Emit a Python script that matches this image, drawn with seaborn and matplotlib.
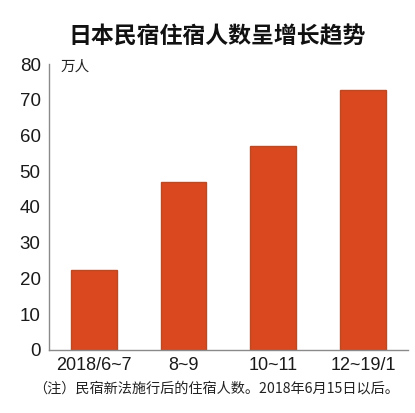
import matplotlib
matplotlib.use("Agg")
import matplotlib.pyplot as plt
import seaborn as sns
import pandas as pd

# Data
title = "日本民宿住宿人数呈增长趋势"
unit_label = "万人"
note = "（注）民宿新法施行后的住宿人数。2018年6月15日以后。"
periods = ["2018/6~7", "8~9", "10~11", "12~19/1"]
guests = [22.3, 46.9, 57.0, 72.8]
y_ticks = [0, 10, 20, 30, 40, 50, 60, 70, 80]

sns.set_theme(style="white")
NUM = ["Liberation Sans", "Noto Sans CJK SC", "DejaVu Sans"]
CJK = ["Noto Sans CJK SC", "DejaVu Sans"]
plt.rcParams["font.family"] = NUM

fig = plt.figure(figsize=(4.15, 4.13), dpi=100)
ax = fig.add_axes([0.118, 0.153, 0.865, 0.692])

df = pd.DataFrame({"period": periods, "guests": guests})
sns.barplot(data=df, x="period", y="guests", ax=ax, color="#D9481E",
            saturation=1, width=0.51, edgecolor="#B84A26", linewidth=1.0)

ax.set_xlim(-0.5, 3.5)
ax.set_ylim(0, 80)
ax.set_yticks(y_ticks)
ax.set_xlabel("")
ax.set_ylabel("")
for s in ["top", "right"]:
    ax.spines[s].set_visible(False)
for s in ["left", "bottom"]:
    ax.spines[s].set_color("#8a8a8a")
    ax.spines[s].set_linewidth(1.0)

ax.tick_params(axis="y", direction="in", length=7, width=1, color="#8a8a8a",
               pad=6, labelsize=13.5, labelcolor="#1a1a1a")
ax.tick_params(axis="x", length=0, pad=5, labelsize=13, labelcolor="#1a1a1a")
for lab in ax.get_yticklabels() + ax.get_xticklabels():
    lab.set_family(NUM)
# hide the tick at 0 (overlaps bottom spine)
ax.yaxis.get_major_ticks()[0].tick1line.set_visible(False)

fig.text(0.524, 0.91, title, ha="center", va="center", fontsize=16.5,
         fontweight="bold", family=CJK, color="#111111")
fig.text(0.147, 0.838, unit_label, ha="left", va="center", fontsize=10.5,
         family=CJK, color="#222222")
fig.text(0.08, 0.06, note, ha="left", va="center", fontsize=10.2,
         family=CJK, color="#222222")

fig.savefig("out.png", dpi=100)
